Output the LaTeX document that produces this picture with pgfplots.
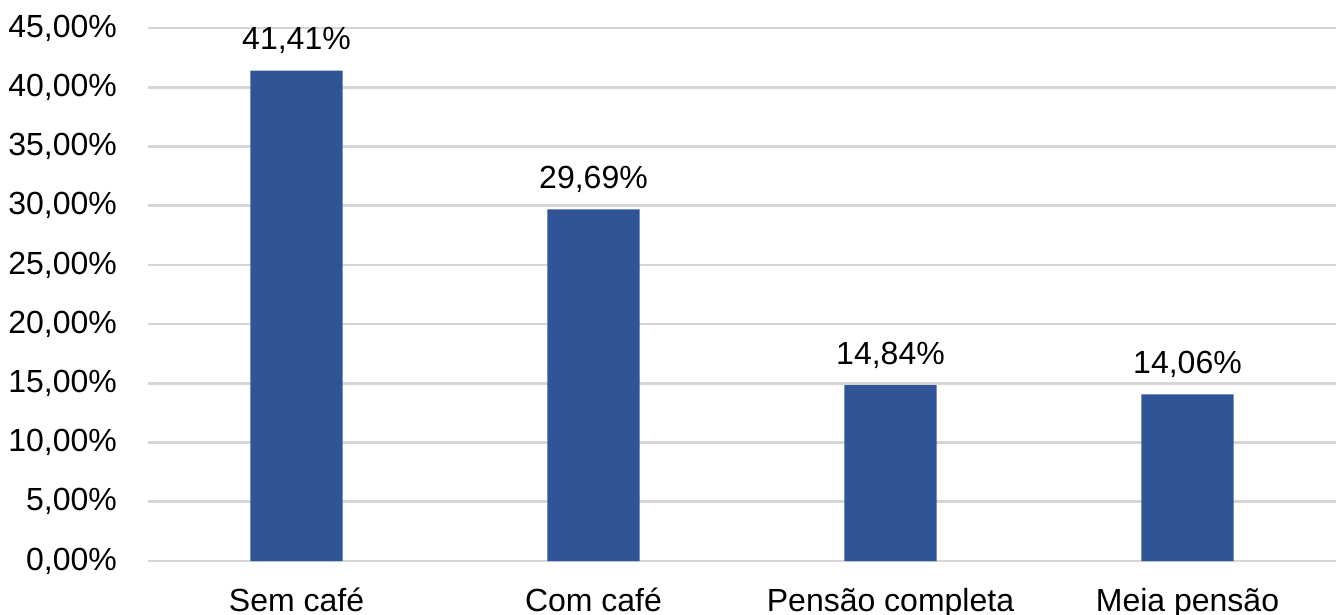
\documentclass[border=0pt]{standalone}
\usepackage{fontspec}
\setmainfont{Liberation Sans}
\usepackage{pgfplots}
\pgfplotsset{compat=1.18}
\definecolor{barblue}{RGB}{47,85,151}
\definecolor{gridgray}{RGB}{214,214,214}
\begin{document}
\fontsize{16pt}{19pt}\selectfont
\begin{tikzpicture}
\path[use as bounding box] (-74pt,-27pt) rectangle (595pt,280.5pt);
\begin{axis}[
  at={(0,0)}, anchor=south west,
  scale only axis, width=594pt, height=266.5pt,
  xmin=-0.5, xmax=3.5, ymin=0, ymax=45,
  ybar, bar width=0.31,
  axis line style={draw=none},
  major tick length=0pt,
  ytick={0,5,...,45},
  ymajorgrids, grid style={gridgray, line width=1.3pt},
  xtick={0,1,2,3},
  xticklabels={Sem café, Com café, Pensão completa, Meia pensão},
  tick label style={font=\fontsize{16pt}{19pt}\selectfont},
  xticklabel style={anchor=base, yshift=-25pt},
  yticklabel={\pgfmathprintnumber[fixed,fixed zerofill,precision=2,use comma]{\tick}\%},
  yticklabel style={anchor=east, xshift=-10pt},
  /pgf/number format/assume math mode=true,
  nodes near coords={\pgfmathprintnumber[fixed,fixed zerofill,precision=2,use comma,assume math mode=true]{\pgfplotspointmeta}\%},
  every node near coord/.append style={font=\fontsize{16pt}{19pt}\selectfont, anchor=base, yshift=10.5pt, text=black},
]
\addplot[fill=barblue, draw=none] coordinates {(0,41.41) (1,29.69) (2,14.84) (3,14.06)};
\end{axis}
\end{tikzpicture}
\end{document}
